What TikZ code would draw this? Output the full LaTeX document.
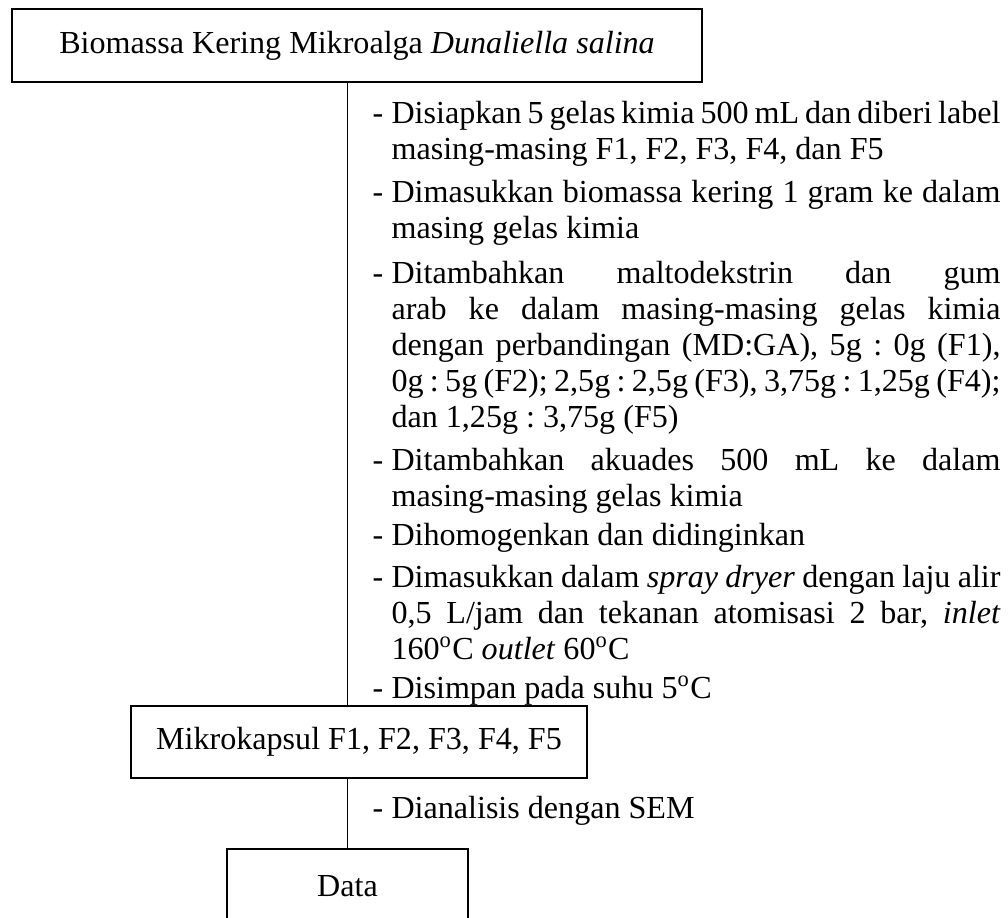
\documentclass[tikz,border=0pt]{standalone}
\usepackage{fontspec}
\setmainfont{Liberation Serif}
\usetikzlibrary{positioning}

% one pixel of the original figure
\newlength{\pix}
\setlength{\pix}{0.3636pt}

% one step of the procedure, dash with hanging indent
\newcommand{\langkah}[1]{%
  \noindent\frenchspacing\spaceskip=.25em plus .8em minus .15em
  \hyphenpenalty=10000 \exhyphenpenalty=10000 \tolerance=10000
  \makebox[19\pix][l]{-}\hangindent=19\pix\hangafter=1 #1\par}

\begin{document}
\begin{tikzpicture}[
  x=0.3636pt, y=-0.3636pt,
  box/.style={draw, line width=0.5pt, inner sep=0pt, align=center, font=\fontsize{11.67}{13.1}\selectfont},
  stepnode/.style={anchor=base west, inner sep=0pt, text width=628\pix, align=justify, font=\fontsize{11.67}{13.1}\selectfont},
  link/.style={line width=0.5pt},
]
  \useasboundingbox (0,0) rectangle (1008,917);

  \node[box, minimum width=690\pix, minimum height=73\pix] (bio) at (357,45.5) {Biomassa Kering Mikroalga \textit{Dunaliella salina}};
  \node[box, minimum width=456\pix, minimum height=72\pix] (kapsul) at (359,742) {Mikrokapsul F1, F2, F3, F4, F5};
  \node[box, minimum width=241\pix, minimum height=74\pix] (data) at (347.5,886) {Data};

  % steps between the first two boxes
  \node[stepnode] (s1) at (372,123) {\langkah{Disiapkan 5 gelas kimia 500 mL dan diberi label\linebreak masing-masing F1, F2, F3, F4, dan F5}};
  \node[stepnode] (s2) at (372,202) {\langkah{Dimasukkan biomassa kering 1 gram ke dalam\linebreak masing gelas kimia}};
  \node[stepnode] (s3) at (372,283) {\langkah{Ditambahkan maltodekstrin dan gum\linebreak arab ke dalam masing-masing gelas kimia\linebreak dengan perbandingan (MD:GA), 5g : 0g (F1),\linebreak 0g : 5g (F2); 2,5g : 2,5g (F3), 3,75g : 1,25g (F4);\linebreak dan 1,25g : 3,75g (F5)}};
  \node[stepnode] (s4) at (372,470) {\langkah{Ditambahkan akuades 500 mL ke dalam\linebreak masing-masing gelas kimia}};
  \node[stepnode] (s5) at (372,545) {\langkah{Dihomogenkan dan didinginkan}};
  \node[stepnode] (s6) at (372,587) {\langkah{Dimasukkan dalam \textit{spray dryer} dengan laju alir\linebreak 0,5 L/jam dan tekanan atomisasi 2 bar, \textit{inlet}\linebreak 160\textsuperscript{o}C \textit{outlet} 60\textsuperscript{o}C}};
  \node[stepnode] (s7) at (372,698) {\langkah{Disimpan pada suhu 5\textsuperscript{o}C}};

  % step between the last two boxes
  \node[stepnode] (s8) at (372,818) {\langkah{Dianalisis dengan SEM}};

  \draw[link] (bio.south -| data.north) -- (kapsul.north -| data.north);
  \draw[link] (kapsul.south -| data.north) -- (data.north);
\end{tikzpicture}
\end{document}
